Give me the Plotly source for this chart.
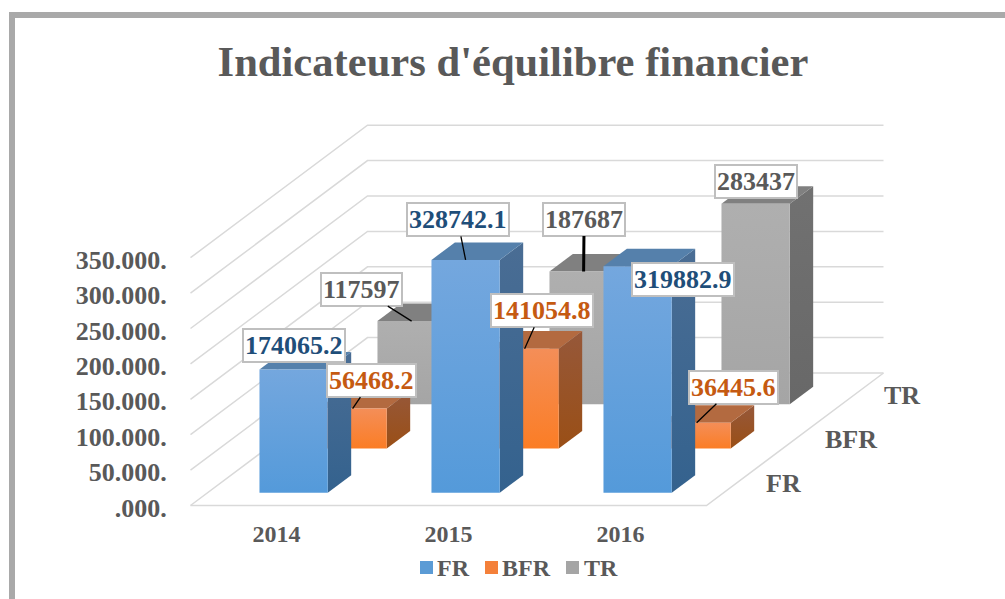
import plotly.graph_objects as go

years = ["2014", "2015", "2016"]
series = ["FR", "BFR", "TR"]
fr_values = [174065.2, 328742.1, 319882.9]
bfr_values = [56468.2, 141054.8, 36445.6]
tr_values = [117597, 187687, 283437]
tick_vals = [0, 50000, 100000, 150000, 200000, 250000, 300000, 350000]
tick_text = [".000.", "50.000.", "100.000.", "150.000.", "200.000.", "250.000.", "300.000.", "350.000."]

values = {"FR": fr_values, "BFR": bfr_values, "TR": tr_values}

# label box offset from the bar's top front edge (pixels), leader width (0 = none)
label_style = {
    "FR": [(0.5, -23.5, 0), (-8, -40, 1.3), (45, 13.4, 0)],
    "BFR": [(19, -28, 1.3), (17, -38, 1.3), (37, -35.5, 1.3)],
    "TR": [(-50, -31.5, 1.3), (0.5, -52, 3), (0, -22.6, 0)],
}

colors = {
    "FR": dict(front=("#549ada", "#74a7de"), side=("#34628e", "#4a6d94"), top="#5580ab", text="#1f4e79", legend="#5b9bd5"),
    "BFR": dict(front=("#fb7d25", "#f48e58"), side=("#9a4f16", "#96583a"), top="#b36a40", text="#c55a11", legend="#f4803a"),
    "TR": dict(front=("#a5a5a5", "#afafaf"), side=("#686868", "#717171"), top="#808080", text="#595959", legend="#a5a5a5"),
}

FONT = "Liberation Serif"
GREY = "#595959"
GRID = "#d9d9d9"

# pixel layout of the plot area
W, H = 1005, 599
L, R, T, B = 180, 900, 100, 512
X0_PX, CAT_PX = 276.5, 172.0
Y0_PX, VAL_PX = 505.5, 35.4 / 50000

# oblique projection: one series slot goes right and up on the page
DEPTH_X = 59.0 / CAT_PX
DEPTH_Y = 44.17 / VAL_PX
BAR_W = 0.397
BAR_FRONT = 0.29
BAR_DEPTH = 0.397

# legend swatch left edge and label left edge, pixels
legend_swatch_px = [420, 485, 566]
legend_text_px = [438, 503, 585]


def project(x, depth, val):
    return x + depth * DEPTH_X, val + depth * DEPTH_Y


def poly(points):
    xs, ys = zip(*[project(*p) for p in points])
    return list(xs) + [xs[0]], list(ys) + [ys[0]]


def px(x):
    return (x - L) / (R - L)


def py(y):
    return (B - y) / (B - T)


fig = go.Figure()


def add_face(points, color):
    xs, ys = poly(points)
    extra = dict(fillcolor=color) if isinstance(color, str) else dict(
        fillgradient=dict(type="vertical", colorscale=[[0, color[0]], [1, color[1]]])
    )
    fig.add_trace(go.Scatter(
        x=xs, y=ys, mode="lines", fill="toself", line=dict(width=0),
        hoverinfo="skip", showlegend=False, **extra
    ))


# walls and floor
n_cat = len(years)
n_ser = len(series)
left, right = -0.5, n_cat - 0.5
grid_x, grid_y = [], []
for t in tick_vals:
    for p in [(left, 0, t), (left, n_ser, t), (right, n_ser, t)]:
        x, y = project(*p)
        grid_x.append(x)
        grid_y.append(y)
    grid_x.append(None)
    grid_y.append(None)
for p in [(left, 0, 0), (right, 0, 0), (right, n_ser, 0)]:
    x, y = project(*p)
    grid_x.append(x)
    grid_y.append(y)
fig.add_trace(go.Scatter(
    x=grid_x, y=grid_y, mode="lines", line=dict(color=GRID, width=1.5),
    hoverinfo="skip", showlegend=False
))

# bars, back row first
annotations = []
for s in reversed(range(n_ser)):
    name = series[s]
    c = colors[name]
    d0 = s + BAR_FRONT
    d1 = d0 + BAR_DEPTH
    for i, val in enumerate(values[name]):
        x0 = i - BAR_W / 2
        x1 = i + BAR_W / 2
        add_face([(x1, d0, 0), (x1, d1, 0), (x1, d1, val), (x1, d0, val)], c["side"])
        add_face([(x0, d0, val), (x1, d0, val), (x1, d1, val), (x0, d1, val)], c["top"])
        add_face([(x0, d0, 0), (x1, d0, 0), (x1, d0, val), (x0, d0, val)], c["front"])

        ax, ay, leader = label_style[name][i]
        tip_x, tip_y = project(i, d0, val)
        annotations.append(dict(
            x=tip_x, y=tip_y, ax=ax, ay=ay, text=str(val),
            showarrow=True, arrowhead=0, standoff=0,
            arrowwidth=leader if leader else 1,
            arrowcolor="#000000" if leader else "rgba(0,0,0,0)",
            font=dict(family=FONT, size=26, color=c["text"], weight=700),
            bgcolor="#ffffff", bordercolor="#bfbfbf", borderwidth=2, borderpad=1,
        ))

# series names along the floor's right edge
for s, name in enumerate(series):
    x, y = project(right, s + 0.5, 0)
    annotations.append(dict(
        x=x, y=y, text=name, showarrow=False, xanchor="left", xshift=28,
        font=dict(family=FONT, size=26, color=GREY, weight=700),
    ))

# outer frame, only its top and left sides are in the picture
frame = [(9, 12, W, 18), (9, 12, 15, H)]
shapes = [
    dict(type="rect", xref="paper", yref="paper", x0=px(a), y0=py(b), x1=px(c), y1=py(d),
         fillcolor="#a9a9a9", line=dict(width=0), layer="below")
    for a, b, c, d in frame
]

# legend row under the chart
for name, sx, tx in zip(series, legend_swatch_px, legend_text_px):
    shapes.append(dict(
        type="rect", xref="paper", yref="paper", x0=px(sx), y0=py(561), x1=px(sx + 13), y1=py(574),
        fillcolor=colors[name]["legend"], line=dict(width=0),
    ))
    annotations.append(dict(
        xref="paper", yref="paper", x=px(tx), y=py(568), text=name, showarrow=False,
        xanchor="left", yanchor="middle", xshift=-3,
        font=dict(family=FONT, size=24, color=GREY, weight=700),
    ))

fig.update_layout(
    width=W, height=H,
    margin=dict(l=L, r=W - R, t=T, b=H - B, pad=0),
    showlegend=False,
    paper_bgcolor="#ffffff", plot_bgcolor="rgba(0,0,0,0)",
    title=dict(
        text="Indicateurs d'équilibre financier", x=513 / W, y=1 - 61 / H,
        xanchor="center", yanchor="middle",
        font=dict(family=FONT, size=42.6, color=GREY, weight=700),
    ),
    xaxis=dict(
        range=[(L - X0_PX) / CAT_PX, (R - X0_PX) / CAT_PX],
        tickvals=list(range(n_cat)), ticktext=years,
        showgrid=False, zeroline=False, showline=False,
        ticks="", ticklabelstandoff=5,
        tickfont=dict(family=FONT, size=24, color=GREY, weight=700),
    ),
    yaxis=dict(
        range=[(Y0_PX - B) / VAL_PX, (Y0_PX - T) / VAL_PX],
        tickvals=tick_vals, ticktext=tick_text,
        showgrid=False, zeroline=False, showline=False,
        ticks="outside", ticklen=7, tickcolor="rgba(0,0,0,0)", ticklabelshift=2,
        tickfont=dict(family=FONT, size=26, color=GREY, weight=700),
    ),
    annotations=annotations,
    shapes=shapes,
)

# the page's default body margin would push the fixed-size figure off the window
fig.write_html(
    "out.html",
    config={"displayModeBar": False},
    post_script="document.body.style.margin='0';",
)
